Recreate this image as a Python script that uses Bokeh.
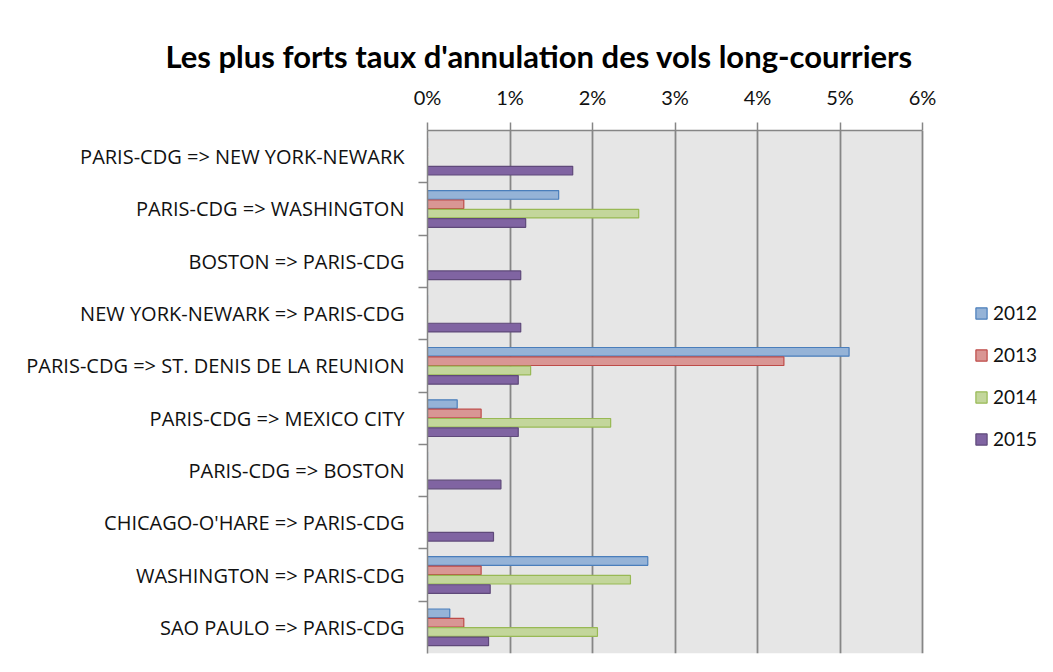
from bokeh.plotting import figure
from bokeh.models import (FactorRange, Range1d, CategoricalAxis, FixedTicker, BoxAnnotation,
                          Legend, LegendItem, ColumnDataSource, NumeralTickFormatter)
from bokeh.transform import dodge
from bokeh.embed import file_html
from bokeh.resources import INLINE

title_text = "Les plus forts taux d'annulation des vols long-courriers"
categories = [
    "PARIS-CDG => NEW YORK-NEWARK",
    "PARIS-CDG => WASHINGTON",
    "BOSTON => PARIS-CDG",
    "NEW YORK-NEWARK => PARIS-CDG",
    "PARIS-CDG => ST. DENIS DE LA REUNION",
    "PARIS-CDG => MEXICO CITY",
    "PARIS-CDG => BOSTON",
    "CHICAGO-O'HARE => PARIS-CDG",
    "WASHINGTON => PARIS-CDG",
    "SAO PAULO => PARIS-CDG",
]
years = ["2012", "2013", "2014", "2015"]
v2012 = [0, 1.59, 0, 0, 5.11, 0.36, 0, 0, 2.67, 0.27]
v2013 = [0, 0.44, 0, 0, 4.32, 0.65, 0, 0, 0.65, 0.44]
v2014 = [0, 2.56, 0, 0, 1.25, 2.22, 0, 0, 2.46, 2.06]
v2015 = [1.76, 1.19, 1.13, 1.13, 1.10, 1.10, 0.89, 0.80, 0.76, 0.74]
x_ticks = [0, 1, 2, 3, 4, 5, 6]

fills = ["#95b3d7", "#d99694", "#c3d69b", "#8064a2"]
lines = ["#4a7ebb", "#be4b48", "#98b954", "#5f497a"]

src = ColumnDataSource(dict(cat=categories, v2012=[v / 100 for v in v2012],
                            v2013=[v / 100 for v in v2013],
                            v2014=[v / 100 for v in v2014],
                            v2015=[v / 100 for v in v2015]))

FONT = "Lato"
CAT_FONT = "Open Sans"

W, H = 1045, 664
LEFT, TOP, BOTTOM = 427, 130, 11
PLOT_W = 495                     # width of the 0-6% plot area
FRAME_W = W - LEFT               # frame extends to the right edge to hold the legend
x_max = max(x_ticks) / 100
x_end = x_max * FRAME_W / PLOT_W

p = figure(width=W, height=H, output_backend="svg", toolbar_location=None,
           title=title_text,
           y_range=FactorRange(factors=list(reversed(categories)), range_padding=0),
           x_range=Range1d(0, x_end),
           x_axis_location="above", y_axis_location=None,
           min_border_left=LEFT, min_border_right=0, min_border_top=TOP,
           min_border_bottom=BOTTOM)

p.title.text_font = FONT
p.title.text_font_size = "31px"
p.title.text_font_style = "bold"
p.title.text_color = "#000000"
p.title.align = "left"
p.title.offset = -262
p.title.standoff = 14

p.background_fill_color = "white"
p.border_fill_color = "white"
p.outline_line_color = None

p.add_layout(BoxAnnotation(left=0, right=x_max, fill_color="#e6e6e6", fill_alpha=1,
                           line_color=None, level="image"))

offsets = [0.268, 0.089, -0.089, -0.268]
renderers = []
for yr, off, fc, lc in zip(years, offsets, fills, lines):
    r = p.hbar(y=dodge("cat", off, range=p.y_range), right="v" + yr, left=0, height=0.165,
               source=src, fill_color=fc, line_color=lc, line_width=1.2)
    renderers.append(r)

# x axis (top)
xa = p.xaxis[0]
xa.ticker = FixedTicker(ticks=[t / 100 for t in x_ticks])
xa.formatter = NumeralTickFormatter(format="0%")
xa.bounds = (0, x_max)
xa.axis_line_color = "#868686"
xa.axis_line_width = 1.5
xa.major_tick_line_color = "#868686"
xa.major_tick_line_width = 1.5
xa.major_tick_out = 8
xa.major_tick_in = 0
xa.minor_tick_line_color = None
xa.major_label_standoff = 14
xa.major_label_text_font = FONT
xa.major_label_text_font_size = "20px"
xa.major_label_text_color = "#111111"

p.xgrid.ticker = FixedTicker(ticks=[t / 100 for t in x_ticks])
p.xgrid.grid_line_color = "#868686"
p.xgrid.grid_line_width = 1.8
p.ygrid.grid_line_color = None

# tick-only categorical axis whose factor centres fall on category boundaries
boundaries = ["b%d" % i for i in range(len(categories) + 1)]
p.extra_y_ranges = {"b": FactorRange(factors=boundaries, range_padding=-0.5,
                                     range_padding_units="absolute")}
ta = CategoricalAxis(y_range_name="b")
ta.major_label_text_font_size = "0px"
ta.major_label_text_color = None
ta.major_label_standoff = 0
ta.axis_line_color = "#868686"
ta.axis_line_width = 1.5
ta.major_tick_line_color = "#868686"
ta.major_tick_line_width = 1.5
ta.major_tick_out = 9
ta.major_tick_in = 0
p.add_layout(ta, "left")

ca = CategoricalAxis()
ca.axis_line_color = None
ca.major_tick_line_color = None
ca.major_tick_out = 0
ca.major_label_standoff = 14
ca.major_label_text_font = CAT_FONT
ca.major_label_text_font_size = "20px"
ca.major_label_text_color = "#111111"
p.add_layout(ca, "left")

legend = Legend(items=[LegendItem(label=yr, renderers=[r]) for yr, r in zip(years, renderers)],
                location=(547, 203), glyph_width=14, glyph_height=14, label_standoff=5,
                label_height=22, spacing=19, label_text_font=FONT, label_text_font_size="19px",
                label_text_color="#111111", border_line_color=None,
                background_fill_alpha=0, padding=0, margin=0)
p.add_layout(legend, "center")

open("out.html", "w").write(file_html(p, INLINE))
